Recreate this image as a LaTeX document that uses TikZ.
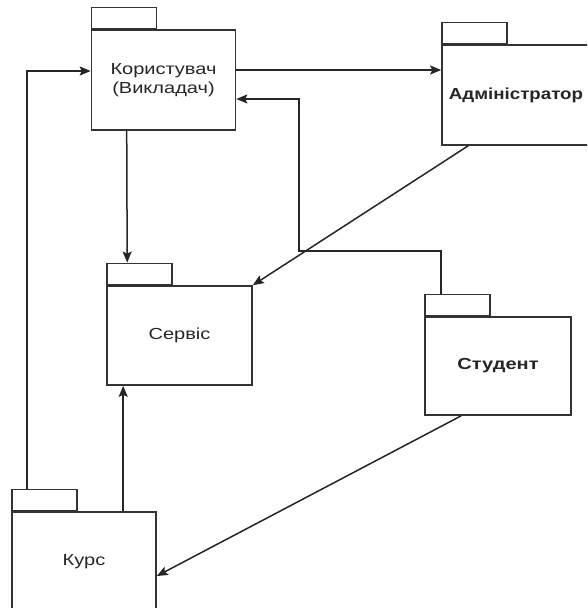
\documentclass[tikz,border=0pt]{standalone}
\usepackage{fontspec}
\setmainfont{Liberation Sans}
\usetikzlibrary{arrows.meta,calc}
\newcommand{\wide}[1]{\scalebox{1.25}[1]{#1}}
\begin{document}
\begin{tikzpicture}[x=1pt,y=-1pt,
  pkg/.style={draw=black!80, line width=1.6pt, fill=white, inner sep=0pt,
    minimum width=144pt, minimum height=100pt, align=center,
    font=\fontsize{16}{19}\selectfont, text=black!85},
  tabbox/.style={draw=black!80, line width=1.6pt, fill=white, inner sep=0pt,
    minimum width=65pt, minimum height=21pt, anchor=south west},
  conn/.style={draw=black!85, line width=1.5pt},
  arr/.style={conn, -{Stealth[length=11pt,width=9pt,inset=2pt]}}]
\useasboundingbox (0,0) rectangle (587,608);
\clip (0,0) rectangle (587,608);
\fill[white] (0,0) rectangle (587,608);

% packages
\node[pkg] (kor) at (163.5,80) {\wide{Користувач}\\\wide{(Викладач)}};
\node[tabbox] (korTab) at (kor.north west) {};

\node[pkg, minimum width=156pt, font=\fontsize{16}{19}\selectfont\bfseries] (adm) at (520,95) {};
\node[font=\fontsize{16}{19}\selectfont\bfseries, text=black!85, inner sep=0pt] (admText) at (516,95) {\scalebox{1.17}[1]{Адміністратор}};
\node[tabbox] (admTab) at (adm.north west) {};

\node[pkg, minimum width=145pt, minimum height=99pt] (serv) at (179.5,335.5) {\wide{Сервіс}};
\node[tabbox] (servTab) at (serv.north west) {};

\node[pkg, minimum width=146pt, minimum height=98pt, font=\fontsize{16}{19}\selectfont\bfseries] (stud) at (498,366) {\wide{Студент}};
\node[tabbox] (studTab) at (stud.north west) {};

\node[pkg] (kurs) at (84,562) {\wide{Курс}};
\node[tabbox] (kursTab) at (kurs.north west) {};

% connectors
\draw[arr] ([xshift=16pt]kursTab.north west) |- ([yshift=9pt]kor.west);
\draw[arr] ([yshift=10pt]kor.east) -- ([yshift=10pt]kor.east -| adm.west);
\draw[arr] ([xshift=17pt]studTab.north west) |- (299,251) |- ([yshift=-19pt]kor.east);
\draw[arr] ([xshift=36pt]kor.south west) -- ([xshift=21pt]servTab.north west);
\draw[arr] ([xshift=27pt]adm.south west) -- (serv.north east);
\draw[arr] ([xshift=112pt]kurs.north west) -- ([xshift=112pt]kurs.north west |- serv.south);
\draw[arr] ([xshift=37pt]stud.south west) -- ([yshift=-14pt]kurs.east);
\end{tikzpicture}
\end{document}
